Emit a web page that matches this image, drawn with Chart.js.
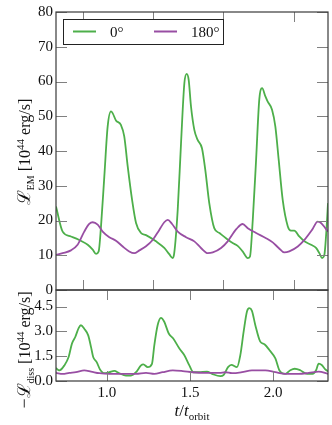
<!DOCTYPE html>
<html><head><meta charset="utf-8">
<script src="https://cdn.jsdelivr.net/npm/chart.js@4.4.1/dist/chart.umd.min.js"></script>
<style>
html,body{margin:0;padding:0;background:#fff;}
#wrap{position:relative;width:332px;height:425px;overflow:hidden;}
canvas{position:absolute;left:0;top:0;}
</style></head><body>
<div id="wrap"><canvas id="c1" width="332" height="425"></canvas><canvas id="c2" width="332" height="425"></canvas></div>
<script>
// ---------- data ----------
const seriesNames = ['0°', '180°'];
const seriesColors = ['#4daf4a', '#984ea3'];

const emTime0 = [0.693,0.733,0.783,0.833,0.884,0.914,0.934,0.950,0.964,0.984,1.004,1.024,1.034,1.054,1.084,1.104,1.125,1.151,1.175,1.205,1.235,1.295,1.345,1.375,1.396,1.405,1.426,1.446,1.466,1.480,1.492,1.506,1.526,1.546,1.572,1.592,1.616,1.646,1.677,1.717,1.757,1.787,1.817,1.848,1.861,1.878,1.898,1.917,1.934,1.954,1.968,1.994,2.014,2.034,2.058,2.089,2.108,2.128,2.158,2.189,2.229,2.259,2.279,2.295,2.309,2.323,2.331];
const em0 = [24.0,16.8,15.4,14.4,13.0,11.6,10.4,11.1,18.3,32.7,47.0,51.4,50.9,48.8,47.5,44.2,35.5,26.0,19.3,16.4,15.8,14.0,12.1,10.3,9.2,10.6,23.1,42.3,59.5,62.2,60.5,52.8,46.1,43.2,40.8,34.6,25.0,17.8,16.4,14.9,13.5,12.7,11.1,9.2,9.6,20.2,37.5,54.7,58.1,55.7,54.2,51.9,47.0,37.5,26.0,18.3,17.1,17.1,15.4,14.0,13.0,12.1,10.6,9.2,10.1,18.3,25.0];

const emTime180 = [0.693,0.733,0.783,0.823,0.863,0.893,0.914,0.944,0.974,1.014,1.054,1.095,1.134,1.164,1.195,1.235,1.275,1.315,1.345,1.366,1.392,1.426,1.476,1.526,1.566,1.607,1.637,1.687,1.727,1.761,1.780,1.817,1.848,1.898,1.958,1.998,2.034,2.068,2.098,2.149,2.189,2.235,2.269,2.289,2.315,2.331];
const em180 = [10.1,10.6,11.4,13.0,16.8,19.0,19.5,18.8,16.8,15.2,14.2,12.5,11.1,10.6,11.4,12.6,14.4,17.3,19.5,20.2,19.0,16.8,15.2,14.0,12.1,10.6,10.8,12.1,14.0,16.4,17.6,19.0,17.8,16.4,14.9,13.7,12.1,10.8,11.1,12.5,14.4,17.3,19.7,19.3,17.8,16.8];

const dissTime0 = [0.693,0.713,0.743,0.769,0.789,0.809,0.830,0.843,0.863,0.887,0.904,0.917,0.938,0.958,0.984,1.014,1.044,1.074,1.114,1.145,1.175,1.205,1.219,1.245,1.271,1.285,1.305,1.325,1.345,1.372,1.399,1.436,1.466,1.496,1.520,1.552,1.602,1.633,1.683,1.703,1.729,1.749,1.783,1.803,1.823,1.843,1.857,1.873,1.893,1.923,1.950,1.978,2.014,2.038,2.074,2.104,2.131,2.164,2.205,2.239,2.259,2.275,2.295,2.315,2.331];
const diss0 = [0.78,0.64,0.94,1.45,2.26,2.66,3.21,3.37,3.16,2.76,2.05,1.45,1.14,0.70,0.47,0.53,0.61,0.47,0.33,0.33,0.53,0.94,1.00,0.84,1.04,2.16,3.37,3.82,3.58,2.87,2.57,1.96,1.56,0.94,0.53,0.53,0.57,0.43,0.29,0.37,0.84,0.98,0.84,1.56,2.98,4.20,4.40,4.24,3.39,2.38,2.21,1.87,1.36,0.65,0.43,0.65,0.74,0.65,0.43,0.43,0.65,1.05,0.95,0.70,0.58];

const dissTime180 = [0.693,0.733,0.773,0.813,0.863,0.904,0.954,1.014,1.095,1.175,1.235,1.285,1.335,1.396,1.456,1.516,1.596,1.677,1.713,1.753,1.813,1.873,1.954,2.014,2.074,2.155,2.215,2.275,2.331];
const diss180 = [0.49,0.43,0.49,0.53,0.64,0.57,0.47,0.43,0.43,0.43,0.49,0.43,0.53,0.64,0.60,0.53,0.49,0.49,0.53,0.47,0.53,0.64,0.64,0.53,0.43,0.43,0.49,0.57,0.43];

const timeRange = [0.693, 2.331];
const emRange = [0, 80];
const dissRange = [0, 5.5];
const emTicks = [0,10,20,30,40,50,60,70,80];
const emTickLabels = ['0','10','20','30','40','50','60','70','80'];
const emTimeTicks = [0.857,1.279,1.701,2.128];
const dissTicks = [0,1.5,3.0,4.5];
const dissTickLabels = ['0.0','1.5','3.0','4.5'];
const timeTicks = [1.0,1.5,2.0];
const timeTickLabels = ['1.0','1.5','2.0'];

// ---------- helpers ----------
const SERIF = "'Liberation Serif','DejaVu Serif',serif";
const pts = (xs, ys) => xs.map((x, i) => ({x, y: ys[i]}));

function richText(ctx, parts, cx, cy, rotate) {
  let w = 0;
  parts.forEach(p => { ctx.font = p.font; p.w = ctx.measureText(p.text).width; w += p.w; });
  ctx.save();
  ctx.translate(cx, cy);
  if (rotate) ctx.rotate(-Math.PI / 2);
  ctx.fillStyle = '#111';
  ctx.textAlign = 'left';
  ctx.textBaseline = 'alphabetic';
  let x = -w / 2;
  parts.forEach(p => { ctx.font = p.font; ctx.fillText(p.text, x, p.dy || 0); x += p.w; });
  ctx.restore();
}

const framePlugin = {
  id: 'frame',
  afterDatasetsDraw(chart, args, o) {
    const {ctx, chartArea: a} = chart;
    const xs = chart.scales.x, ys = chart.scales.y;
    ctx.save();
    ctx.strokeStyle = '#808080';
    ctx.lineWidth = 1;
    ctx.beginPath();
    xs.ticks.forEach(t => {
      const p = Math.round(xs.getPixelForValue(t.value)) + 0.5;
      ctx.moveTo(p, a.top); ctx.lineTo(p, a.top + o.xLen);
      ctx.moveTo(p, a.bottom); ctx.lineTo(p, a.bottom - o.xLen);
    });
    ys.ticks.forEach(t => {
      const p = Math.round(ys.getPixelForValue(t.value)) + 0.5;
      ctx.moveTo(a.left, p); ctx.lineTo(a.left + o.yLen, p);
      ctx.moveTo(a.right, p); ctx.lineTo(a.right - o.yLen, p);
    });
    ctx.stroke();
    ctx.strokeStyle = '#3a3a3a';
    ctx.lineWidth = 1.2;
    ctx.strokeRect(a.left, a.top, a.right - a.left, a.bottom - a.top);
    ctx.restore();
  },
  afterDraw(chart, args, o) {
    const ctx = chart.ctx, a = chart.chartArea;
    if (o.ytitle) richText(ctx, o.ytitle, 30, o.ytitleY, true);
    if (o.xtitle) richText(ctx, o.xtitle, (a.left + a.right) / 2, 416, false);
    if (o.legend) {
      ctx.save();
      ctx.fillStyle = '#fff';
      ctx.fillRect(63, 19, 160, 25);
      ctx.strokeStyle = '#222';
      ctx.lineWidth = 1;
      ctx.strokeRect(63.5, 19.5, 160, 25);
      const items = [{x: 73, tx: 110}, {x: 154, tx: 191}];
      items.forEach((it, i) => {
        ctx.strokeStyle = seriesColors[i];
        ctx.lineWidth = 2;
        ctx.beginPath(); ctx.moveTo(it.x, 31.5); ctx.lineTo(it.x + 23, 31.5); ctx.stroke();
        ctx.fillStyle = '#111';
        ctx.font = '15px ' + SERIF;
        ctx.textBaseline = 'alphabetic';
        ctx.fillText(seriesNames[i], it.tx, 36.5);
      });
      ctx.restore();
    }
  }
};

function scaleX(ticksArr, labels, showLabels, height) {
  return {
    type: 'linear', min: timeRange[0], max: timeRange[1],
    afterBuildTicks: s => { s.ticks = ticksArr.map(v => ({value: v})); },
    afterFit: s => { s.height = height; },
    grid: {display: false, drawTicks: false}, border: {display: false},
    ticks: {display: showLabels, autoSkip: false, maxRotation: 0, padding: 3, color: '#111',
      font: {family: SERIF, size: 15},
      callback: v => labels ? labels[ticksArr.indexOf(v)] : ''}
  };
}
function scaleY(range, ticksArr, labels) {
  return {
    type: 'linear', min: range[0], max: range[1],
    afterBuildTicks: s => { s.ticks = ticksArr.map(v => ({value: v})); },
    afterFit: s => { s.width = 56; },
    grid: {display: false, drawTicks: false}, border: {display: false},
    ticks: {autoSkip: false, padding: 3, color: '#111', font: {family: SERIF, size: 15},
      callback: v => labels[ticksArr.indexOf(v)]}
  };
}
const lineDs = (label, data, i) => ({
  label, data, borderColor: seriesColors[i], borderWidth: 1.8, pointRadius: 0,
  cubicInterpolationMode: 'monotone', fill: false, order: i === 0 ? 1 : 0
});
const common = {
  responsive: false, animation: false, events: [],
  plugins: {legend: {display: false}, tooltip: {enabled: false}}
};

new Chart(document.getElementById('c1'), {
  type: 'line',
  data: {datasets: [lineDs(seriesNames[0], pts(emTime0, em0), 0), lineDs(seriesNames[1], pts(emTime180, em180), 1)]},
  options: Object.assign({}, common, {
    layout: {padding: {left: 0, right: 4, top: 12, bottom: 0}},
    scales: {x: scaleX(emTimeTicks, null, false, 135), y: scaleY(emRange, emTicks, emTickLabels)},
    plugins: Object.assign({}, common.plugins, {
      frame: {xLen: 10, yLen: 11, legend: true, ytitleY: 152,
        ytitle: [
          {text: 'ℒ', font: '18px ' + SERIF},
          {text: 'EM', font: '10px ' + SERIF, dy: 3.5},
          {text: ' [10', font: '16px ' + SERIF},
          {text: '44', font: '11px ' + SERIF, dy: -6.5},
          {text: ' erg/s]', font: '16px ' + SERIF}
        ]}
    })
  }),
  plugins: [framePlugin]
});

new Chart(document.getElementById('c2'), {
  type: 'line',
  data: {datasets: [lineDs(seriesNames[0], pts(dissTime0, diss0), 0), lineDs(seriesNames[1], pts(dissTime180, diss180), 1)]},
  options: Object.assign({}, common, {
    layout: {padding: {left: 0, right: 4, top: 290, bottom: 0}},
    scales: {x: scaleX(timeTicks, timeTickLabels, true, 44), y: scaleY(dissRange, dissTicks, dissTickLabels)},
    plugins: Object.assign({}, common.plugins, {
      frame: {xLen: 10, yLen: 11, ytitleY: 350,
        ytitle: [
          {text: '−ℒ', font: '18px ' + SERIF},
          {text: 'diss', font: '10px ' + SERIF, dy: 3.5},
          {text: ' [10', font: '16px ' + SERIF},
          {text: '44', font: '11px ' + SERIF, dy: -6.5},
          {text: ' erg/s]', font: '16px ' + SERIF}
        ],
        xtitle: [
          {text: 't', font: 'italic 17px ' + SERIF},
          {text: '/', font: '17px ' + SERIF},
          {text: 't', font: 'italic 17px ' + SERIF},
          {text: 'orbit', font: '11px ' + SERIF, dy: 3.5}
        ]}
    })
  }),
  plugins: [framePlugin]
});
</script>
</body></html>
